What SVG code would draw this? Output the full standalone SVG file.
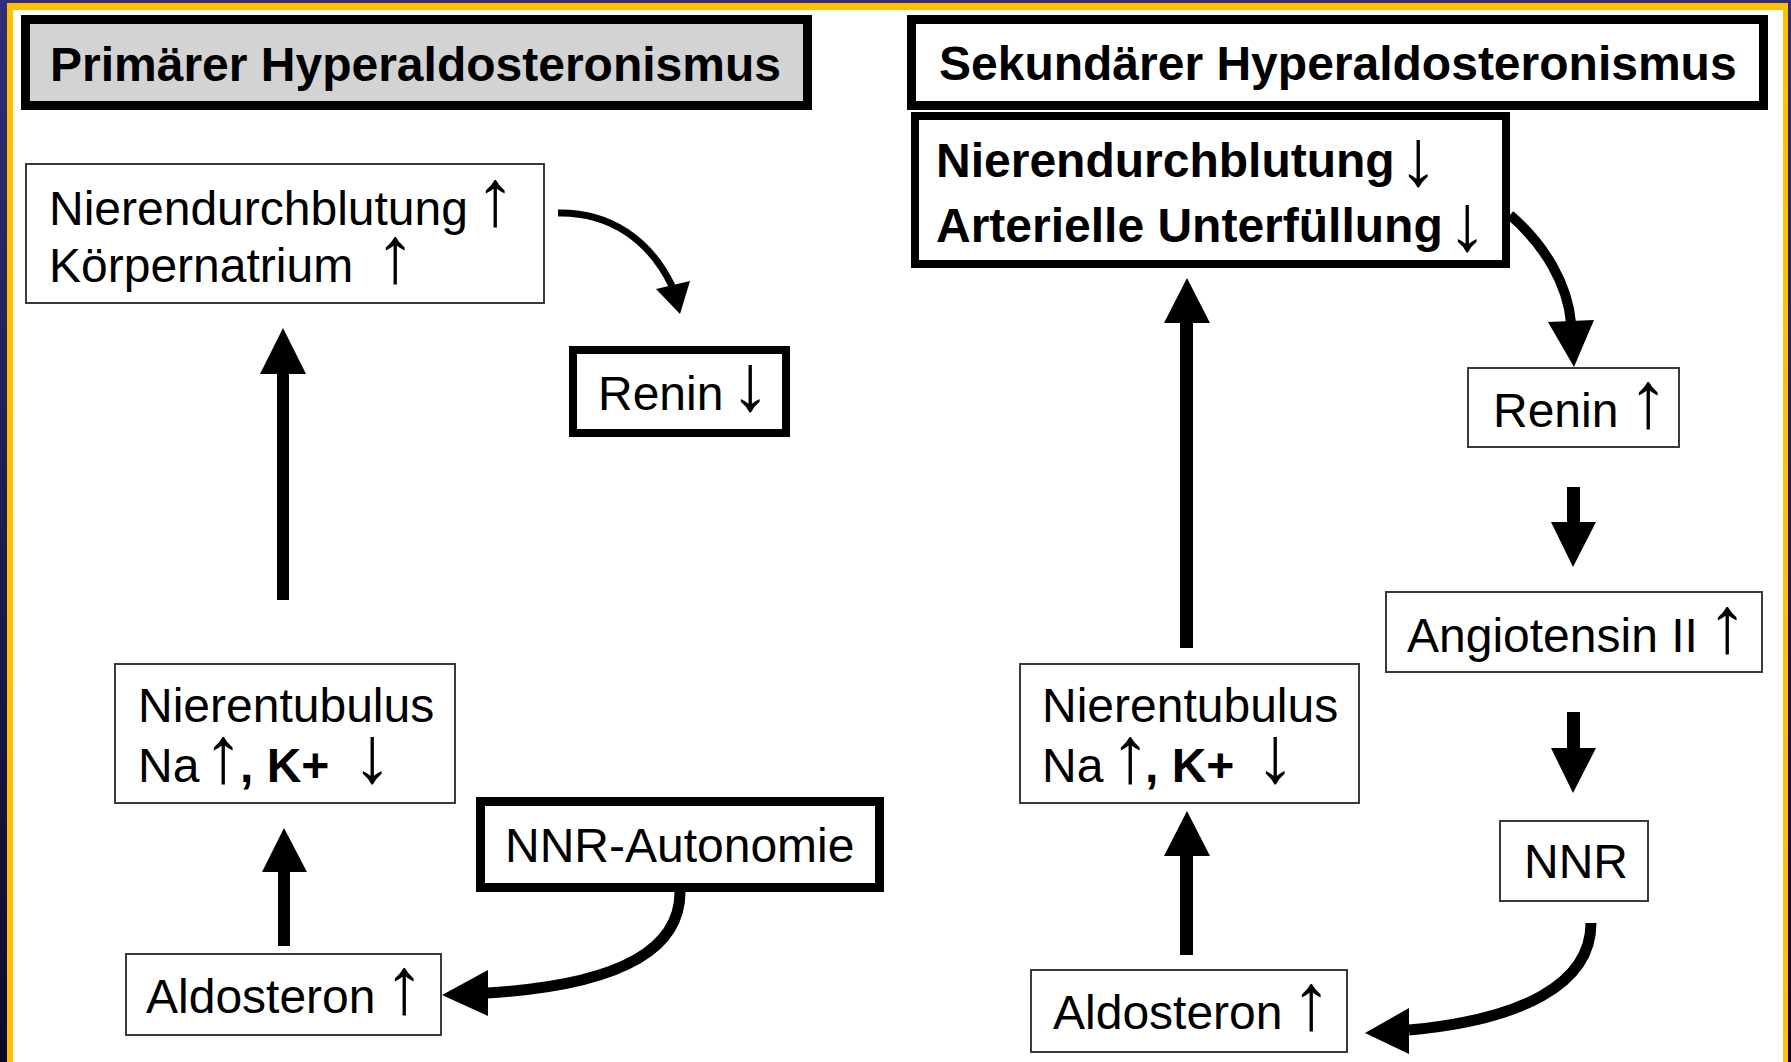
<svg xmlns="http://www.w3.org/2000/svg" width="1791" height="1062" viewBox="0 0 1791 1062">
<defs>
<linearGradient id="navy" x1="0" y1="0" x2="0" y2="1">
<stop offset="0" stop-color="#2e2e7a"/>
<stop offset="1" stop-color="#0b0b28"/>
</linearGradient>
<style>
text{font-family:"Liberation Sans",Arial,sans-serif;font-size:48px;fill:#000}
.b{font-weight:bold}
.thin{fill:#fff;stroke:#3a3a3a;stroke-width:2}
.thick{fill:#fff;stroke:#000}
.arr{text-anchor:middle;font-size:80px;font-weight:normal}
.curve{fill:none;stroke:#000;stroke-linecap:butt}
.head{fill:#000}
</style>
</defs>
<rect x="0" y="0" width="1791" height="1062" fill="url(#navy)"/>
<rect x="7" y="3" width="1781" height="1059" fill="#ffc000"/>
<rect x="13" y="10" width="1770" height="1052" fill="#fff"/>

<g id="title-primaer">
<rect x="25.5" y="19.5" width="782" height="86" fill="#d3d3d3" stroke="#000" stroke-width="9"/>
<text class="b" x="50" y="81">Primärer Hyperaldosteronismus</text>
</g>
<g id="title-sekundaer">
<rect x="911.5" y="19.5" width="852" height="86" class="thick" stroke-width="9"/>
<text class="b" x="939" y="80">Sekundärer Hyperaldosteronismus</text>
</g>

<g id="p-nierendurchblutung">
<rect x="26" y="164" width="518" height="139" class="thin"/>
<text x="49" y="225">Nierendurchblutung<tspan class="arr" x="495">↑</tspan></text>
<text x="49" y="282">Körpernatrium<tspan class="arr" x="395">↑</tspan></text>
</g>
<g id="p-renin">
<rect x="573" y="350" width="213" height="83" class="thick" stroke-width="8"/>
<text x="598" y="410">Renin<tspan class="arr" x="750">↓</tspan></text>
</g>
<g id="p-nierentubulus">
<rect x="115" y="664" width="340" height="139" class="thin"/>
<text x="138" y="722">Nierentubulus</text>
<text x="138" y="782">Na<tspan class="arr" x="223">↑</tspan><tspan class="b" x="240">, K+</tspan><tspan class="arr" x="372">↓</tspan></text>
</g>
<g id="p-nnr-autonomie">
<rect x="480.5" y="801.5" width="399" height="86" class="thick" stroke-width="9"/>
<text x="505" y="862">NNR-Autonomie</text>
</g>
<g id="p-aldosteron">
<rect x="126" y="954" width="315" height="81" class="thin"/>
<text x="146" y="1013">Aldosteron<tspan class="arr" x="404">↑</tspan></text>
</g>

<g id="s-nierendurchblutung">
<rect x="915" y="116" width="591" height="148" class="thick" stroke-width="8"/>
<text class="b" x="936" y="177">Nierendurchblutung<tspan class="arr" x="1418" dy="8">↓</tspan></text>
<text class="b" x="936" y="242">Arterielle Unterfüllung<tspan class="arr" x="1467" dy="8">↓</tspan></text>
</g>
<g id="s-renin">
<rect x="1468" y="368" width="211" height="79" class="thin"/>
<text x="1493" y="427">Renin<tspan class="arr" x="1648">↑</tspan></text>
</g>
<g id="s-angiotensin">
<rect x="1386" y="592" width="376" height="80" class="thin"/>
<text x="1407" y="652">Angiotensin II<tspan class="arr" x="1727">↑</tspan></text>
</g>
<g id="s-nnr">
<rect x="1500" y="821" width="148" height="80" class="thin"/>
<text x="1524" y="878">NNR</text>
</g>
<g id="s-nierentubulus">
<rect x="1020" y="664" width="339" height="139" class="thin"/>
<text x="1042" y="722">Nierentubulus</text>
<text x="1042" y="782">Na<tspan class="arr" x="1130">↑</tspan><tspan class="b" x="1145">, K+</tspan><tspan class="arr" x="1275">↓</tspan></text>
</g>
<g id="s-aldosteron">
<rect x="1031" y="970" width="316" height="82" class="thin"/>
<text x="1053" y="1029">Aldosteron<tspan class="arr" x="1311">↑</tspan></text>
</g>

<g id="connectors">
<path class="curve" stroke-width="7" d="M558,213 C610,212 650,240 672,286"/>
<polygon class="head" points="656,289 690,281 680,314"/>
<path class="head" d="M277,600 V374 H260 L283,328 L306,374 H289 V600 Z"/>
<path class="head" d="M278,946 V872 H262 L284,828 L307,872 H290 V946 Z"/>
<path class="curve" stroke-width="11" d="M680,892 C680,950 620,985 487,993"/>
<polygon class="head" points="488,970 488,1016 442,995"/>

<path class="head" d="M1180,648 V323 H1164 L1187,278 L1210,323 H1193 V648 Z"/>
<path class="head" d="M1180,955 V856 H1164 L1187,811 L1210,856 H1193 V955 Z"/>
<path class="curve" stroke-width="10" d="M1510,215 C1545,245 1568,285 1571,323"/>
<polygon class="head" points="1548,322 1594,320 1574,367"/>
<path class="head" d="M1567,487 V522 H1551 L1573,567 L1596,522 H1580 V487 Z"/>
<path class="head" d="M1567,712 V748 H1551 L1573,793 L1596,748 H1580 V712 Z"/>
<path class="curve" stroke-width="11" d="M1591,923 C1591,985 1520,1020 1409,1030"/>
<polygon class="head" points="1409,1008 1409,1054 1365,1033"/>
</g>
</svg>
